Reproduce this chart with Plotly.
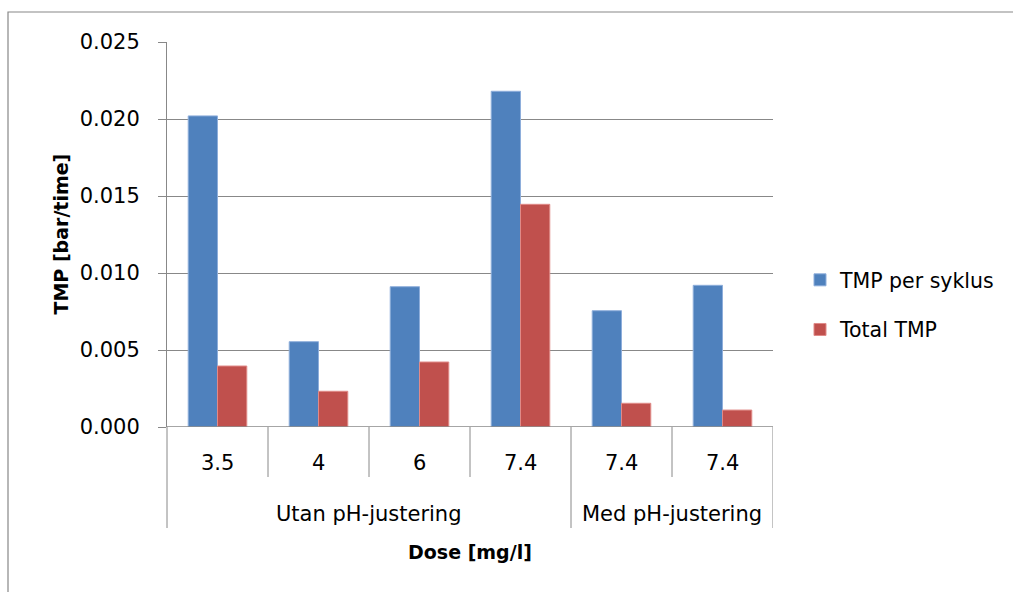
import plotly.graph_objects as go

doses = ["3.5", "4", "6", "7.4", "7.4", "7.4"]
groups = ["Utan pH-justering", "Utan pH-justering", "Utan pH-justering", "Utan pH-justering",
          "Med pH-justering", "Med pH-justering"]
tmp_per_syklus = [0.0202, 0.00554, 0.00911, 0.0218, 0.00755, 0.0092]
total_tmp = [0.00396, 0.00232, 0.00422, 0.01446, 0.00154, 0.0011]
y_ticks = [0.0, 0.005, 0.010, 0.015, 0.020, 0.025]

FONT = "DejaVu Sans"
GRID = "#888888"
BLUE = "#4F81BD"
RED = "#C0504D"
FS = 21

W, H = 1013, 592
L, R, T, B = 167, 240, 42, 165
ph = H - T - B  # plot height in px
pw = W - L - R

def py(pix):  # pixel y -> paper y
    return (H - B - pix) / ph

def px(pix):  # pixel x -> paper x
    return (pix - L) / pw

xpos = list(range(len(doses)))

fig = go.Figure()
fig.add_trace(go.Bar(x=xpos, y=tmp_per_syklus, name="TMP per syklus",
                     marker=dict(color=BLUE, line=dict(color="#8EAEDB", width=1)),
                     legendgroup="a"))
fig.add_trace(go.Bar(x=xpos, y=total_tmp, name="Total TMP",
                     marker=dict(color=RED, line=dict(color="#E08A88", width=1)),
                     legendgroup="b"))

fig.update_layout(
    width=W, height=H,
    margin=dict(l=L, r=R, t=T, b=B, pad=0, autoexpand=False),
    paper_bgcolor="white", plot_bgcolor="white",
    barmode="group", bargap=0.42, bargroupgap=0,
    font=dict(family=FONT, size=FS, color="black"),
    showlegend=True,
    legend=dict(x=px(800), xanchor="left", y=py(305), yanchor="middle",
                tracegroupgap=20, font=dict(size=20.5, family=FONT),
                bgcolor="rgba(0,0,0,0)"),
    xaxis=dict(range=[-0.5, 5.5], showticklabels=False, showgrid=False,
               zeroline=False, showline=False, ticks=""),
    yaxis=dict(range=[0, 0.025], tickvals=y_ticks, tickformat=".3f",
               showgrid=True, gridcolor=GRID, gridwidth=1,
               zeroline=False, showline=True, linecolor=GRID, linewidth=1,
               ticks="outside", ticklen=8, tickcolor=GRID,
               ticklabelstandoff=14, tickfont=dict(size=FS, family=FONT)),
)

shapes = []
# x axis baseline
shapes.append(dict(type="line", xref="paper", yref="y", x0=0, x1=1, y0=0, y1=0,
                   line=dict(color=GRID, width=1.5)))
# extended y axis line down through category rows
shapes.append(dict(type="line", xref="paper", yref="paper", x0=0, x1=0,
                   y0=py(528), y1=0, line=dict(color=GRID, width=1)))
# category separators (inner)
group_bounds = [i for i in range(1, len(groups)) if groups[i] != groups[i - 1]]
for i in range(1, len(doses)):
    bottom = py(528) if i in group_bounds else py(477)
    shapes.append(dict(type="line", xref="x", yref="paper", x0=i - 0.5, x1=i - 0.5,
                       y0=bottom, y1=0, line=dict(color=GRID, width=1)))
# right edge
shapes.append(dict(type="line", xref="x", yref="paper", x0=len(doses) - 0.5, x1=len(doses) - 0.5,
                   y0=py(528), y1=0, line=dict(color=GRID, width=1)))
# outer chart border
shapes.append(dict(type="rect", xref="paper", yref="paper", x0=px(8), x1=px(1030),
                   y0=py(620), y1=py(12), line=dict(color=GRID, width=1.2),
                   fillcolor="rgba(0,0,0,0)", layer="below"))
fig.update_layout(shapes=shapes)

ann = []
for i, d in enumerate(doses):
    ann.append(dict(x=i, y=py(463), xref="x", yref="paper", text=d, showarrow=False,
                    xanchor="center", yanchor="middle", font=dict(size=FS, family=FONT)))
# group labels
seen = []
for g in groups:
    if g not in seen:
        seen.append(g)
for g in seen:
    idx = [i for i, gg in enumerate(groups) if gg == g]
    ann.append(dict(x=(idx[0] + idx[-1]) / 2, y=py(514), xref="x", yref="paper", text=g,
                    showarrow=False, xanchor="center", yanchor="middle",
                    font=dict(size=FS, family=FONT)))
ann.append(dict(x=0.5, y=py(552), xref="paper", yref="paper", text="<b>Dose [mg/l]</b>",
                showarrow=False, xanchor="center", yanchor="middle", font=dict(size=19, family=FONT)))
ann.append(dict(x=px(60), y=0.5, xref="paper", yref="paper", text="<b>TMP [bar/time]</b>",
                showarrow=False, xanchor="center", yanchor="middle", textangle=-90,
                font=dict(size=19, family=FONT)))
fig.update_layout(annotations=ann)

fig.write_html("out.html")
